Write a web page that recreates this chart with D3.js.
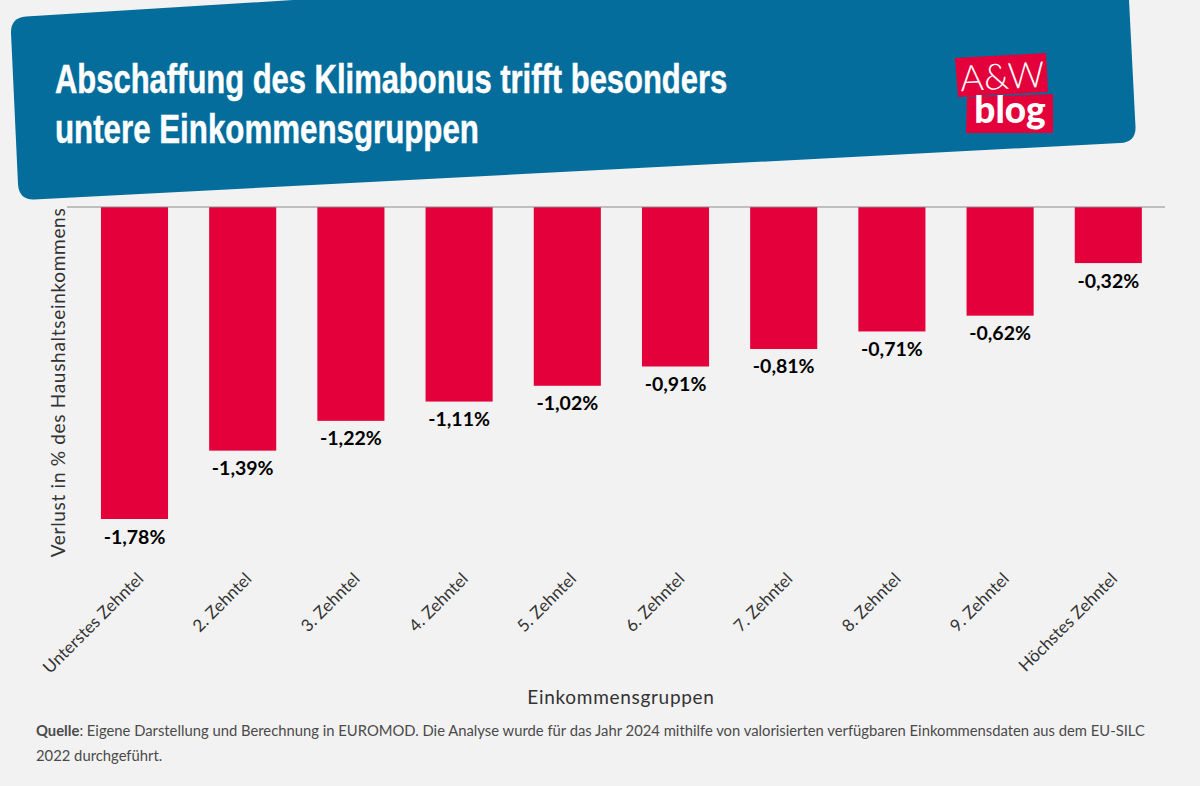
<!DOCTYPE html>
<html>
<head>
<meta charset="utf-8">
<script src="https://cdn.jsdelivr.net/npm/d3@7"></script>
<style>
    html, body { margin: 0; padding: 0; background: #f2f2f2; }
    svg { display: block; }
    text { font-family: Lato, sans-serif; }
</style>
</head>
<body>
<svg id="chart" width="1200" height="786"></svg>
<script>
const categories = ["Unterstes Zehntel", "2. Zehntel", "3. Zehntel", "4. Zehntel", "5. Zehntel",
    "6. Zehntel", "7. Zehntel", "8. Zehntel", "9. Zehntel", "Höchstes Zehntel"];
const losses = [-1.78, -1.39, -1.22, -1.11, -1.02, -0.91, -0.81, -0.71, -0.62, -0.32];
const titleLines = ["Abschaffung des Klimabonus trifft besonders", "untere Einkommensgruppen"];
const sourceLines = [": Eigene Darstellung und Berechnung in EUROMOD. Die Analyse wurde für das Jahr 2024 mithilfe von valorisierten verfügbaren Einkommensdaten aus dem EU-SILC",
    "2022 durchgeführt."];

const svg = d3.select("#chart");

// banner, slightly tilted
svg.append("path")
    .attr("fill", "#046d9c")
    .attr("d", "M11 33 Q10.5 18 26 16.5 L293 0 L1129 0 L1135.5 127 Q1136 142 1120 143 L34 199.5 Q19 200 18 184 Z");

// no narrow font here, so squeeze a bold one
svg.selectAll(".title")
    .data(titleLines)
    .enter()
    .append("text")
    .attr("class", "title")
    .attr("transform", (d, i) => `translate(55,${93 + i * 50}) scale(${i ? 0.763 : 0.755},1)`)
    .attr("fill", "#fff")
    .attr("stroke", "#fff")
    .attr("stroke-width", 0.5)
    .style("font-family", "'Liberation Sans', sans-serif")
    .style("font-weight", 700)
    .style("font-size", "41px")
    .text(d => d);

// logo
const logo = svg.append("g");
logo.append("path").attr("fill", "#e4003a").attr("d", "M955 58 L1046 53 L1048 92 L958 97 Z");
logo.append("path").attr("fill", "#e4003a").attr("d", "M967 97 L1053 94 L1053 133 L966 133 Z");
logo.append("text").attr("x", 1003).attr("y", 89).attr("text-anchor", "middle").attr("fill", "#fff")
    .attr("transform", "rotate(-3 1003 89)")
    .style("font-weight", 300).style("font-size", "36px").text("A&W");
logo.append("text").attr("x", 1010).attr("y", 123).attr("text-anchor", "middle").attr("fill", "#fff")
    .style("font-weight", 900).style("font-size", "37px").text("blog");

// scales
const x = d3.scaleBand().domain(categories).range([80.4, 1162.4]).paddingInner(0.38).paddingOuter(0.19);
const y = d3.scaleLinear().domain([0, -1.78]).range([207, 519]);

svg.selectAll(".bar")
    .data(losses)
    .enter()
    .append("rect")
    .attr("class", "bar")
    .attr("x", (d, i) => x(categories[i]))
    .attr("y", y(0))
    .attr("width", x.bandwidth())
    .attr("height", d => y(d) - y(0))
    .attr("fill", "#e4003a");

svg.selectAll(".value")
    .data(losses)
    .enter()
    .append("text")
    .attr("class", "value")
    .attr("x", (d, i) => x(categories[i]) + x.bandwidth() / 2)
    .attr("y", d => y(d) + 24.5)
    .attr("text-anchor", "middle")
    .attr("fill", "#000")
    .style("font-weight", 700)
    .style("font-size", "19.5px")
    .text(d => d.toFixed(2).replace(".", ",") + "%");

// zero line
svg.append("line")
    .attr("x1", 67).attr("x2", 1165)
    .attr("y1", y(0)).attr("y2", y(0))
    .attr("stroke", "#8c8c8c").attr("stroke-width", 1.2);

// category labels
svg.selectAll(".cat")
    .data(categories)
    .enter()
    .append("text")
    .attr("class", "cat")
    .attr("text-anchor", "end")
    .attr("transform", d => `translate(${x(d) + x.bandwidth() / 2 + 10},${580}) rotate(-45)`)
    .attr("fill", "#333")
    .style("font-size", "17px")
    .text(d => d);

svg.append("text")
    .attr("transform", "translate(65,382.5) rotate(-90)")
    .attr("text-anchor", "middle")
    .attr("fill", "#333")
    .style("font-size", "19px")
    .style("letter-spacing", "0.7px")
    .text("Verlust in % des Haushaltseinkommens");

svg.append("text")
    .attr("x", 621).attr("y", 704)
    .attr("text-anchor", "middle")
    .attr("fill", "#333")
    .style("font-size", "19px")
    .style("letter-spacing", "0.7px")
    .text("Einkommensgruppen");

// source note
const first = svg.append("text").attr("x", 36).attr("y", 736).attr("fill", "#4a4a4a").style("font-size", "14.8px");
first.append("tspan").style("font-weight", 700).text("Quelle");
first.append("tspan").text(sourceLines[0]);
svg.append("text").attr("x", 36).attr("y", 761).attr("fill", "#4a4a4a").style("font-size", "14.8px").text(sourceLines[1]);
</script>
</body>
</html>
